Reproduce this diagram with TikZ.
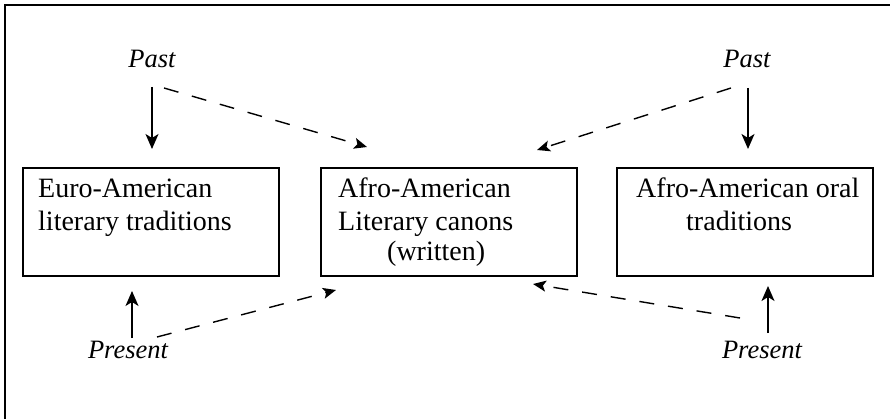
\documentclass[tikz,border=0pt]{standalone}
\usepackage{fontspec}
\setmainfont{Liberation Serif}
\usetikzlibrary{arrows.meta}
\tikzset{
  box/.style={draw, line width=1.1pt, minimum width=256pt, minimum height=108pt, inner sep=0pt},
  txt/.style={anchor=base west, inner sep=0pt, font=\fontsize{28}{32}\selectfont},
  lbl/.style={anchor=base, inner sep=0pt, font=\fontsize{26.5}{30}\selectfont\itshape},
  solidarr/.style={line width=1.5pt, -{Stealth[length=15pt, width=13pt, inset=4pt]}},
  dasharr/.style={line width=1.4pt, dash pattern=on 15pt off 14pt, -{Stealth[length=13pt, width=11pt, inset=3pt]}}
}
\begin{document}
\begin{tikzpicture}[x=1pt,y=-1pt]
\useasboundingbox (0,0) rectangle (890,419);
\draw[line width=1.6pt] (5,419) -- (5,5) -- (890,5);

\node[box] (b1) at (151,222) {};
\node[box] (b2) at (449,222) {};
\node[box] (b3) at (745,222) {};

\node[txt] (t1a) at (38,198) {Euro-American};
\node[txt] (t1b) at (38,231) {literary traditions};
\node[txt] (t2a) at (338,198) {Afro-American};
\node[txt] (t2b) at (338,231) {Literary canons};
\node[txt] (t2c) at (387,261) {(written)};
\node[txt] (t3a) at (636,198) {Afro-American oral};
\node[txt] (t3b) at (686,231) {traditions};

\node[lbl] (p1) at (152,68) {Past};
\node[lbl] (p2) at (747,68) {Past};
\node[lbl] (q1) at (128,358) {Present};
\node[lbl] (q2) at (762,358) {Present};

\coordinate (p1s) at (152,87);
\coordinate (p1e) at (152,149);
\coordinate (p1d) at (164,88);
\coordinate (b2tl) at (367,147);
\coordinate (p2s) at (748,88);
\coordinate (p2e) at (748,149);
\coordinate (p2d) at (731,88);
\coordinate (b2tr) at (537,150);
\coordinate (q1s) at (132,338);
\coordinate (q1e) at (132,291);
\coordinate (q1d) at (157,337);
\coordinate (b2bl) at (336,290);
\coordinate (q2s) at (768,333);
\coordinate (q2e) at (768,286);
\coordinate (q2d) at (740,318);
\coordinate (b2br) at (533,284);

\draw[solidarr] (p1s) -- (p1e);
\draw[dasharr] (p1d) -- (b2tl);
\draw[solidarr] (p2s) -- (p2e);
\draw[dasharr] (p2d) -- (b2tr);
\draw[solidarr] (q1s) -- (q1e);
\draw[dasharr] (q1d) -- (b2bl);
\draw[solidarr] (q2s) -- (q2e);
\draw[dasharr] (q2d) -- (b2br);
\end{tikzpicture}
\end{document}
